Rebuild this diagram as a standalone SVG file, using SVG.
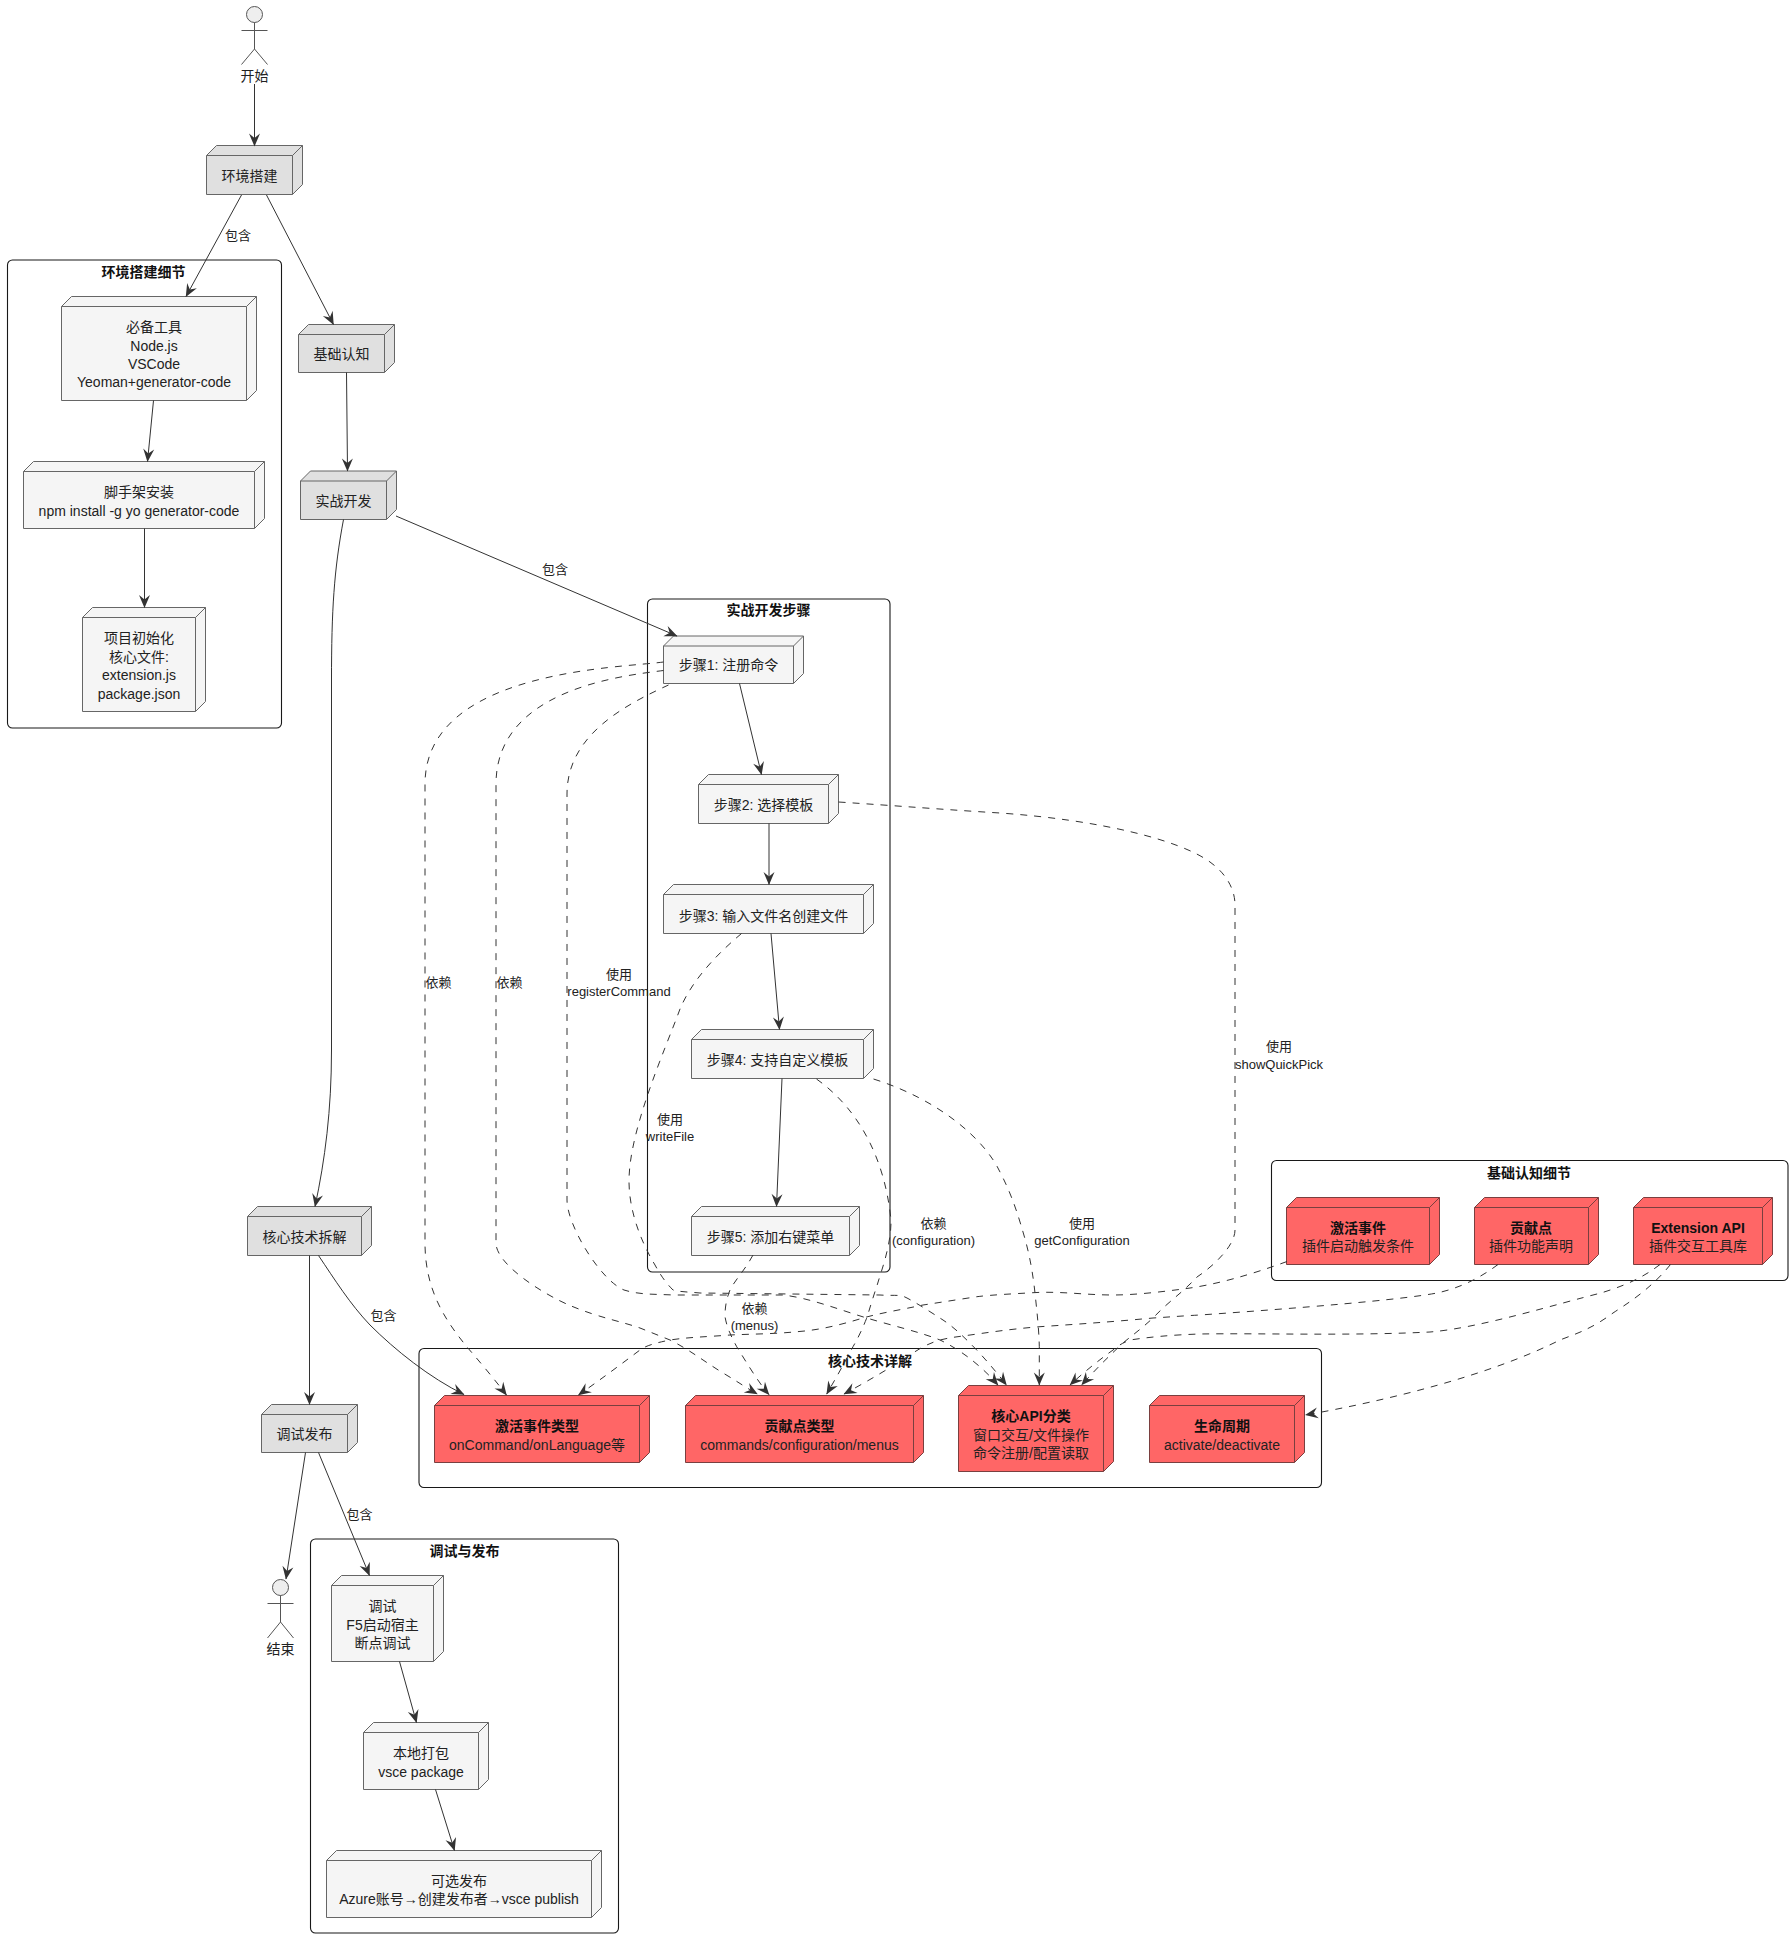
<svg xmlns="http://www.w3.org/2000/svg" width="1791" height="1938" viewBox="0 0 1791 1938">
<style>
text{font-family:"Liberation Sans","Noto Sans CJK SC",sans-serif;font-size:14px;fill:#222;text-anchor:middle;dominant-baseline:central}
.t{font-weight:bold;fill:#111}
.l{font-size:13px}
.c{fill:none;stroke:#181818;stroke-width:1.1;rx:5px}
.g path{fill:#e0e0e0;stroke:#666;stroke-width:1}
.w path{fill:#f5f5f5;stroke:#666;stroke-width:1}
.r path{fill:#ff6666;stroke:#7a3f3f;stroke-width:1}
.g path+path,.w path+path,.r path+path{fill:none}
.a ellipse{fill:#eee;stroke:#555}
.a path{fill:none;stroke:#555;stroke-width:1}
#connectors path{fill:none;stroke:#333;stroke-width:1;marker-end:url(#h)}
#connectors .d{stroke-dasharray:7 7}
</style>
<defs>
<marker id="h" markerUnits="userSpaceOnUse" markerWidth="14" markerHeight="12" refX="12.5" refY="6" orient="auto" overflow="visible">
<path d="M13,6 L0,0.5 L4.5,6 L0,11.5 Z" fill="#333"/>
</marker>
</defs>
<rect width="1791" height="1938" fill="#fff"/>

<g id="clusters">
<g id="cluster-env"><rect class="c" x="7.5" y="260" width="274" height="468"/><text class="t" x="143.5" y="272">环境搭建细节</text></g>
<g id="cluster-dev"><rect class="c" x="647.5" y="599" width="242.5" height="673"/><text class="t" x="768.5" y="610">实战开发步骤</text></g>
<g id="cluster-core"><rect class="c" x="419" y="1348.5" width="902.5" height="139"/><text class="t" x="870" y="1361">核心技术详解</text></g>
<g id="cluster-basic"><rect class="c" x="1271.5" y="1160.5" width="516.5" height="120"/><text class="t" x="1529" y="1172.5">基础认知细节</text></g>
<g id="cluster-debug"><rect class="c" x="310.5" y="1539" width="308" height="394"/><text class="t" x="464.5" y="1551">调试与发布</text></g>
</g>

<g id="start" class="a"><ellipse cx="254.5" cy="14.5" rx="8" ry="8"/><path d="M254.5,22.5V49M241.5,30.5H267.5M241.5,64.5L254.5,49L267.5,64.5"/><text x="254.5" y="75.5">开始</text></g>
<g id="end" class="a"><ellipse cx="280.5" cy="1587.5" rx="8" ry="8"/><path d="M280.5,1595.5V1622M267.5,1603.5H293.5M267.5,1638L280.5,1622L293.5,1638"/><text x="280.5" y="1649">结束</text></g>

<g id="n-env" class="g"><path d="M206.5,155.5L216.5,145.5H302.5V184.5L292.5,194.5H206.5Z"/><path d="M206.5,155.5H292.5V194.5M292.5,155.5L302.5,145.5"/><text x="249.5" y="175.5">环境搭建</text></g>
<g id="n-basic" class="g"><path d="M298.5,334.5L308.5,324.5H394.5V362.5L384.5,372.5H298.5Z"/><path d="M298.5,334.5H384.5V372.5M384.5,334.5L394.5,324.5"/><text x="341.5" y="354">基础认知</text></g>
<g id="n-dev" class="g"><path d="M300.5,481L310.5,471H396.5V509.5L386.5,519.5H300.5Z"/><path d="M300.5,481H386.5V519.5M386.5,481L396.5,471"/><text x="343.5" y="501">实战开发</text></g>
<g id="n-core" class="g"><path d="M247.5,1216.5L257.5,1206.5H371.5V1245.5L361.5,1255.5H247.5Z"/><path d="M247.5,1216.5H361.5V1255.5M361.5,1216.5L371.5,1206.5"/><text x="304.5" y="1236.5">核心技术拆解</text></g>
<g id="n-debug" class="g"><path d="M261.5,1414.5L271.5,1404.5H357.5V1442.5L347.5,1452.5H261.5Z"/><path d="M261.5,1414.5H347.5V1452.5M347.5,1414.5L357.5,1404.5"/><text x="304.5" y="1434">调试发布</text></g>

<g id="n-tools" class="w"><path d="M61.5,306.5L71.5,296.5H256.5V390.5L246.5,400.5H61.5Z"/><path d="M61.5,306.5H246.5V400.5M246.5,306.5L256.5,296.5"/><text x="154" y="327">必备工具</text><text x="154" y="345.5">Node.js</text><text x="154" y="363.5">VSCode</text><text x="154" y="382">Yeoman+generator-code</text></g>
<g id="n-scaffold" class="w"><path d="M23.5,471.5L33.5,461.5H264.5V518.5L254.5,528.5H23.5Z"/><path d="M23.5,471.5H254.5V528.5M254.5,471.5L264.5,461.5"/><text x="139" y="492">脚手架安装</text><text x="139" y="510.5">npm install -g yo generator-code</text></g>
<g id="n-init" class="w"><path d="M82.5,617.5L92.5,607.5H205.5V701.5L195.5,711.5H82.5Z"/><path d="M82.5,617.5H195.5V711.5M195.5,617.5L205.5,607.5"/><text x="139" y="638">项目初始化</text><text x="139" y="656.5">核心文件:</text><text x="139" y="675">extension.js</text><text x="139" y="693.5">package.json</text></g>

<g id="n-s1" class="w"><path d="M663.5,646L673.5,636H803.5V673.5L793.5,683.5H663.5Z"/><path d="M663.5,646H793.5V683.5M793.5,646L803.5,636"/><text x="728.5" y="665">步骤1: 注册命令</text></g>
<g id="n-s2" class="w"><path d="M698.5,784.5L708.5,774.5H838.5V813.5L828.5,823.5H698.5Z"/><path d="M698.5,784.5H828.5V823.5M828.5,784.5L838.5,774.5"/><text x="763.5" y="805">步骤2: 选择模板</text></g>
<g id="n-s3" class="w"><path d="M663.5,894.5L673.5,884.5H873.5V923.5L863.5,933.5H663.5Z"/><path d="M663.5,894.5H863.5V933.5M863.5,894.5L873.5,884.5"/><text x="763.5" y="915.5">步骤3: 输入文件名创建文件</text></g>
<g id="n-s4" class="w"><path d="M691.5,1039.5L701.5,1029.5H873.5V1068.5L863.5,1078.5H691.5Z"/><path d="M691.5,1039.5H863.5V1078.5M863.5,1039.5L873.5,1029.5"/><text x="777.5" y="1060">步骤4: 支持自定义模板</text></g>
<g id="n-s5" class="w"><path d="M691.5,1216.5L701.5,1206.5H859.5V1245.5L849.5,1255.5H691.5Z"/><path d="M691.5,1216.5H849.5V1255.5M849.5,1216.5L859.5,1206.5"/><text x="770.5" y="1237">步骤5: 添加右键菜单</text></g>

<g id="n-d1" class="w"><path d="M331.5,1585.5L341.5,1575.5H443.5V1651.5L433.5,1661.5H331.5Z"/><path d="M331.5,1585.5H433.5V1661.5M433.5,1585.5L443.5,1575.5"/><text x="382.5" y="1606">调试</text><text x="382.5" y="1624.5">F5启动宿主</text><text x="382.5" y="1643">断点调试</text></g>
<g id="n-d2" class="w"><path d="M363.5,1732.5L373.5,1722.5H488.5V1779.5L478.5,1789.5H363.5Z"/><path d="M363.5,1732.5H478.5V1789.5M478.5,1732.5L488.5,1722.5"/><text x="421" y="1753">本地打包</text><text x="421" y="1771.5">vsce package</text></g>
<g id="n-d3" class="w"><path d="M326.5,1860.5L336.5,1850.5H601.5V1907.5L591.5,1917.5H326.5Z"/><path d="M326.5,1860.5H591.5V1917.5M591.5,1860.5L601.5,1850.5"/><text x="459" y="1881">可选发布</text><text x="459" y="1899">Azure账号→创建发布者→vsce publish</text></g>

<g id="n-e1" class="r"><path d="M434.5,1405.5L444.5,1395.5H649.5V1452.5L639.5,1462.5H434.5Z"/><path d="M434.5,1405.5H639.5V1462.5M639.5,1405.5L649.5,1395.5"/><text class="t" x="537" y="1425.5">激活事件类型</text><text x="537" y="1444.5">onCommand/onLanguage等</text></g>
<g id="n-e2" class="r"><path d="M685.5,1405.5L695.5,1395.5H923.5V1452.5L913.5,1462.5H685.5Z"/><path d="M685.5,1405.5H913.5V1462.5M913.5,1405.5L923.5,1395.5"/><text class="t" x="799.5" y="1425.5">贡献点类型</text><text x="799.5" y="1444.5">commands/configuration/menus</text></g>
<g id="n-e3" class="r"><path d="M958.5,1395.5L968.5,1385.5H1113.5V1461.5L1103.5,1471.5H958.5Z"/><path d="M958.5,1395.5H1103.5V1471.5M1103.5,1395.5L1113.5,1385.5"/><text class="t" x="1031" y="1416">核心API分类</text><text x="1031" y="1434.5">窗口交互/文件操作</text><text x="1031" y="1453">命令注册/配置读取</text></g>
<g id="n-e4" class="r"><path d="M1149.5,1405.5L1159.5,1395.5H1304.5V1452.5L1294.5,1462.5H1149.5Z"/><path d="M1149.5,1405.5H1294.5V1462.5M1294.5,1405.5L1304.5,1395.5"/><text class="t" x="1222" y="1425.5">生命周期</text><text x="1222" y="1444.5">activate/deactivate</text></g>
<g id="n-b1" class="r"><path d="M1286.5,1207.5L1296.5,1197.5H1439.5V1254.5L1429.5,1264.5H1286.5Z"/><path d="M1286.5,1207.5H1429.5V1264.5M1429.5,1207.5L1439.5,1197.5"/><text class="t" x="1358" y="1227.5">激活事件</text><text x="1358" y="1246">插件启动触发条件</text></g>
<g id="n-b2" class="r"><path d="M1474.5,1207.5L1484.5,1197.5H1598.5V1254.5L1588.5,1264.5H1474.5Z"/><path d="M1474.5,1207.5H1588.5V1264.5M1588.5,1207.5L1598.5,1197.5"/><text class="t" x="1531" y="1227.5">贡献点</text><text x="1531" y="1246">插件功能声明</text></g>
<g id="n-b3" class="r"><path d="M1633.5,1207.5L1643.5,1197.5H1772.5V1254.5L1762.5,1264.5H1633.5Z"/><path d="M1633.5,1207.5H1762.5V1264.5M1762.5,1207.5L1772.5,1197.5"/><text class="t" x="1698" y="1227.5">Extension API</text><text x="1698" y="1246">插件交互工具库</text></g>

<g id="connectors">
<path d="M254.5,84V146"/>
<path d="M241.5,195L186,296.5"/>
<path d="M266.5,195L333.5,324.5"/>
<path d="M153.5,400.5L147.5,461.5"/>
<path d="M144.5,528.5V607.5"/>
<path d="M346.5,372.5L347.5,471"/>
<path d="M396,516L677,636"/>
<path d="M343.5,519.5C334,570 331.5,610 331.5,680V1050C331.5,1110 325,1160 315,1206.5"/>
<path d="M739.5,683.5L761.5,774.5"/>
<path d="M769,823.5V884.5"/>
<path d="M771,933.5L779.5,1029.5"/>
<path d="M782,1078.5L776.5,1206.5"/>
<path d="M309.5,1255.5V1404.5"/>
<path d="M318.5,1255.5C335,1280 350,1304 370,1325C395,1350 430,1378 464,1394.5"/>
<path d="M305.5,1452.5L286,1579"/>
<path d="M318.5,1452.5L369.5,1575.5"/>
<path d="M399.5,1661.5L416.5,1722.5"/>
<path d="M435.5,1789.5L454.5,1850.5"/>
<path class="d" d="M663.5,662C620,668 425,670 425,784V1243C425,1290 445,1320 467,1347C480,1362 495,1380 506.5,1395"/>
<path class="d" d="M663.5,670.5C620,676 496,690 496,784V1243C496,1265 545,1295 570,1305.5C600,1318 620,1321 640,1328C650,1332 660,1336 670,1340C690,1350 705,1362 723,1373C735,1380 745,1387 757.3,1394"/>
<path class="d" d="M668.5,685C625,705 567,735 567,794V1200C567,1225 600,1280 624,1290C640,1295 655,1294 673,1295L783,1295C810,1298 840,1310 866.7,1318C890,1325 920,1332 940,1340C965,1352 985,1370 998,1385"/>
<path class="d" d="M741.5,933.5C710,960 690,985 680,1009C665,1050 629,1130 629,1181C629,1210 640,1240 655,1265C662,1278 668,1285 673,1290C680,1292 690,1292 700,1293L880,1295C895,1296 900,1294 907,1298C920,1305 932,1313 943,1320C955,1328 965,1338 976.7,1350C988,1362 997,1373 1006.5,1385"/>
<path class="d" d="M838.5,802C900,806 950,810 1000,813C1100,820 1180,840 1210,862C1228,875 1235,891 1235,905V1230C1235,1245 1215,1265 1197,1277C1180,1295 1170,1300 1153,1318C1140,1330 1130,1337 1123,1343C1108,1357 1095,1370 1081.7,1385"/>
<path class="d" d="M873.5,1079C940,1100 985,1140 1000,1172C1012,1195 1018,1215 1023,1232C1030,1255 1033,1275 1035,1293C1037,1312 1039,1330 1039.3,1346.7V1385"/>
<path class="d" d="M816.5,1079C860,1110 885,1160 891,1220C891,1230 890,1238 888,1246.7C885,1262 880,1275 876.7,1286.7C873,1297 870,1308 866.7,1318C862,1330 858,1338 853,1346.7C845,1362 836,1378 826.7,1394"/>
<path class="d" d="M753,1255C745,1270 735,1280 730,1290C726,1300 725,1308 725,1316.7C727,1328 731,1336 736.7,1346.7C745,1360 758,1382 769,1394.7"/>
<path class="d" d="M1287,1261.5C1250,1275 1215,1285 1183,1289C1160,1292 1135,1295 1113,1295C1085,1295 1060,1291 1033,1292.7C1010,1294 990,1295 977,1296.7C955,1300 930,1304 923,1305C900,1310 880,1313 863,1318C840,1325 820,1330 797,1331.7C775,1334 750,1334 730,1335C705,1337 690,1337 670,1340C655,1343 645,1346 640,1350C620,1365 600,1380 578.5,1395"/>
<path class="d" d="M1498,1264.5C1480,1278 1460,1288 1437,1293C1400,1300 1300,1308 1200,1315C1180,1316 1170,1317 1153,1318C1110,1322 1080,1324 1040,1326.7C1010,1329 985,1333 963,1336C955,1337 948,1338 940,1340C930,1343 922,1347 915,1351.7C895,1365 870,1380 844,1394"/>
<path class="d" d="M1660,1264.5C1640,1280 1620,1287 1601,1293C1560,1303 1480,1328 1430,1332C1350,1336 1260,1333 1200,1334C1170,1335 1150,1337 1130,1340C1122,1343 1118,1346 1113,1350C1095,1363 1082,1374 1070,1385"/>
<path class="d" d="M1670.5,1264.5C1650,1290 1625,1305 1613,1313C1590,1330 1575,1334 1560,1340C1490,1375 1390,1400 1305.5,1415"/>
</g>

<g id="labels">
<text class="l" x="238" y="235.5">包含</text>
<text class="l" x="555" y="569">包含</text>
<text class="l" x="438.5" y="982.5">依赖</text>
<text class="l" x="509.5" y="982.5">依赖</text>
<text class="l" x="619" y="974.5">使用</text>
<text class="l" x="619" y="991.5">registerCommand</text>
<text class="l" x="670" y="1119.5">使用</text>
<text class="l" x="670" y="1136.5">writeFile</text>
<text class="l" x="1279" y="1046">使用</text>
<text class="l" x="1279" y="1064">showQuickPick</text>
<text class="l" x="933.5" y="1223.5">依赖</text>
<text class="l" x="933.5" y="1240.5">(configuration)</text>
<text class="l" x="1082" y="1223.5">使用</text>
<text class="l" x="1082" y="1240.5">getConfiguration</text>
<text class="l" x="754.5" y="1308">依赖</text>
<text class="l" x="754.5" y="1325">(menus)</text>
<text class="l" x="383.5" y="1315.5">包含</text>
<text class="l" x="359.5" y="1514.5">包含</text>
</g>
</svg>
